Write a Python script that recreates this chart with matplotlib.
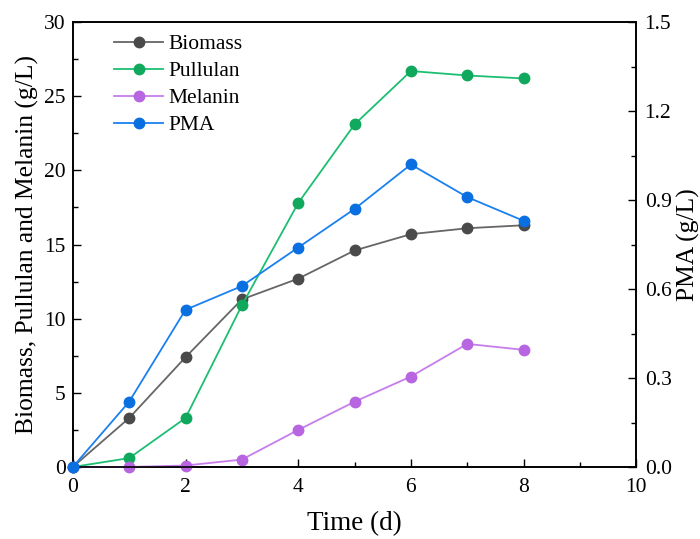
import matplotlib
matplotlib.use("Agg")
import matplotlib.pyplot as plt
from matplotlib.ticker import MultipleLocator

plt.rcParams["font.family"] = ["Liberation Serif", "DejaVu Serif"]

days = [0, 1, 2, 3, 4, 5, 6, 7, 8]
biomass = [0, 3.3, 7.4, 11.3, 12.7, 14.6, 15.7, 16.1, 16.3]
pullulan = [0, 0.6, 3.3, 10.9, 17.8, 23.1, 26.7, 26.4, 26.2]
melanin = [0, 0.0, 0.1, 0.5, 2.5, 4.4, 6.1, 8.3, 7.9]
pma = [0, 0.22, 0.53, 0.61, 0.74, 0.87, 1.02, 0.91, 0.83]

fig = plt.figure(figsize=(7.0, 5.39), dpi=100)
ax = fig.add_axes([0.104, 0.1336, 0.805, 0.8254])
ax2 = ax.twinx()

styles = [
    (biomass, "Biomass", "#666666", "#4a4a4a"),
    (pullulan, "Pullulan", "#1cbf72", "#10a85c"),
    (melanin, "Melanin", "#c77dec", "#b765e0"),
]
for vals, name, lc, mc in styles:
    ax.plot(days, vals, "-o", color=lc, lw=1.3, ms=7.5, mfc=mc, mec=mc,
            label=name, clip_on=False, zorder=3)

ax2.plot(days, pma, "-o", color="#1a80f0", lw=1.3, ms=7.5, mfc="#0a6fe0",
         mec="#0a6fe0", label="PMA", clip_on=False, zorder=3)

ax.set_xlim(0, 10)
ax.set_ylim(0, 30)
ax2.set_ylim(0, 1.5)

ax.xaxis.set_major_locator(MultipleLocator(2))
ax.xaxis.set_minor_locator(MultipleLocator(1))
ax.yaxis.set_major_locator(MultipleLocator(5))
ax.yaxis.set_minor_locator(MultipleLocator(2.5))
ax2.yaxis.set_major_locator(MultipleLocator(0.3))
ax2.yaxis.set_minor_locator(MultipleLocator(0.15))
ax2.yaxis.set_major_formatter(plt.FormatStrFormatter("%.1f"))

for a in (ax, ax2):
    a.tick_params(which="both", direction="in", labelsize=15.5, width=1.0)
    a.tick_params(which="major", length=6)
    a.tick_params(which="minor", length=3.5)
    for s in a.spines.values():
        s.set_linewidth(1.2)
ax.tick_params(axis="x", pad=8)
ax.tick_params(axis="y", pad=5)
ax2.tick_params(axis="y", pad=6)

ax.set_xlabel("Time (d)", fontsize=19.5, labelpad=10)
ax.set_ylabel("Biomass, Pullulan and Melanin (g/L)", fontsize=18.4, labelpad=4)
ax2.set_ylabel("PMA (g/L)", fontsize=18.4, labelpad=4)

h1, l1 = ax.get_legend_handles_labels()
h2, l2 = ax2.get_legend_handles_labels()
ax.legend(h1 + h2, l1 + l2, loc="upper left", frameon=False, fontsize=15.5,
          bbox_to_anchor=(0.073, 0.973), borderaxespad=0, borderpad=0,
          handlelength=2.3, labelspacing=0.32, handletextpad=0.25)

fig.savefig("out.png", dpi=100)
